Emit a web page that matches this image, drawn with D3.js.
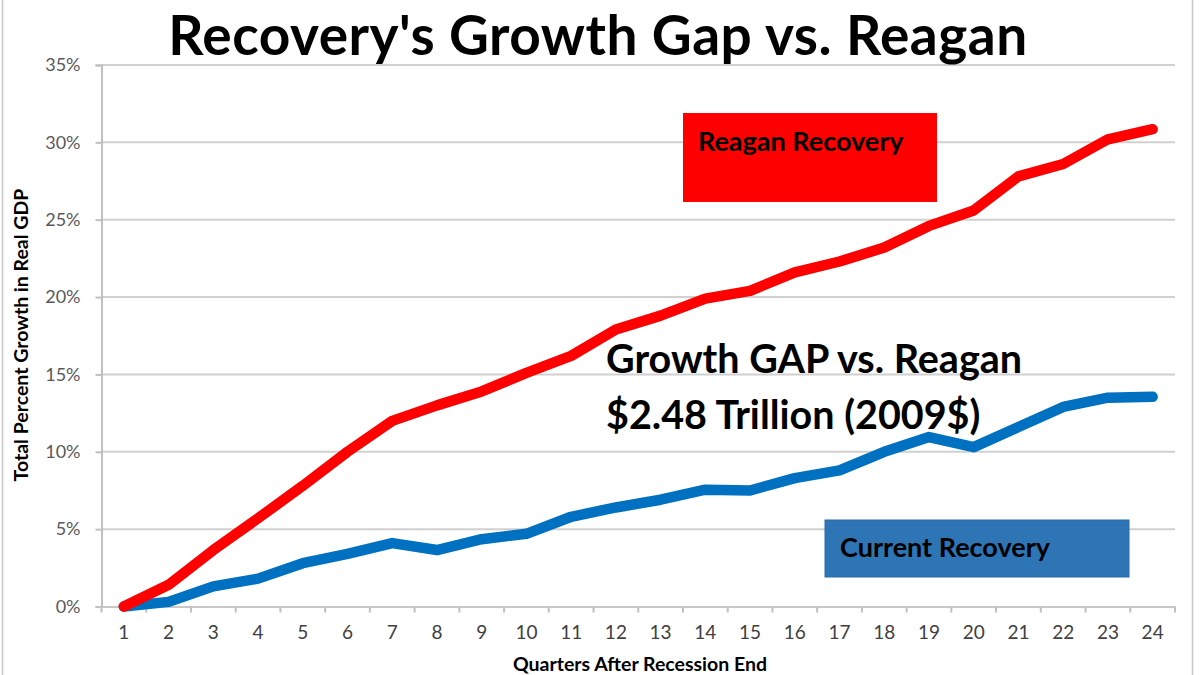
<!DOCTYPE html>
<html>
<head>
<meta charset="utf-8">
<script src="https://cdn.jsdelivr.net/npm/d3@7"></script>
<style>
  html, body { margin: 0; padding: 0; background: #fff; }
  svg { display: block; font-family: Lato, "Open Sans", sans-serif; }
</style>
</head>
<body>
<svg id="chart" width="1200" height="675"></svg>
<script>
// ---- data ----
const quarters = [1,2,3,4,5,6,7,8,9,10,11,12,13,14,15,16,17,18,19,20,21,22,23,24];
const reagan  = [0, 1.4, 3.65, 5.7, 7.8, 10.0, 12.0, 13.0, 13.9, 15.1, 16.2, 17.9, 18.8, 19.9, 20.4, 21.6, 22.3, 23.2, 24.6, 25.6, 27.8, 28.6, 30.2, 30.85];
const current = [0, 0.3, 1.3, 1.8, 2.8, 3.4, 4.1, 3.65, 4.35, 4.7, 5.8, 6.4, 6.9, 7.55, 7.5, 8.3, 8.8, 10.0, 10.95, 10.3, 11.6, 12.9, 13.5, 13.55];
const yTicks = [0, 5, 10, 15, 20, 25, 30, 35];
const title = "Recovery's Growth Gap vs. Reagan";
const yTitle = "Total Percent Growth in Real GDP";
const xTitle = "Quarters After Recession End";
const reaganLabel = "Reagan Recovery";
const currentLabel = "Current Recovery";
const gapLines = ["Growth GAP vs. Reagan", "$2.48 Trillion (2009$)"];

// ---- layout ----
const svg = d3.select("#chart");
const pLeft = 101.5, pRight = 1175, pTop = 65, pBottom = 606.5;

const x = d3.scaleBand().domain(quarters).range([pLeft, pRight]).padding(0);
const y = d3.scaleLinear().domain([0, 35]).range([pBottom, pTop]);

// frame lines at image edges
svg.append("line").attr("x1", 2.5).attr("x2", 2.5).attr("y1", 0).attr("y2", 675)
  .attr("stroke", "#c8c8c8").attr("stroke-width", 1.5);
svg.append("line").attr("x1", 1192.5).attr("x2", 1192.5).attr("y1", 0).attr("y2", 675)
  .attr("stroke", "#c8c8c8").attr("stroke-width", 1.5);

// gridlines
svg.append("g").selectAll("line").data(yTicks.filter(d => d > 0)).join("line")
  .attr("x1", pLeft).attr("x2", pRight)
  .attr("y1", d => y(d)).attr("y2", d => y(d))
  .attr("stroke", "#d0d0d0").attr("stroke-width", 2);

// y axis
const yAxis = d3.axisLeft(y).tickValues(yTicks).tickFormat(d => d + "%").tickSize(6).tickPadding(15);
const gy = svg.append("g").attr("transform", `translate(${pLeft},0)`).call(yAxis);
gy.select(".domain").attr("stroke", "#c0c0c0").attr("stroke-width", 2);
gy.selectAll(".tick line").attr("stroke", "#c0c0c0").attr("stroke-width", 2);
gy.selectAll(".tick text").attr("fill", "#595959").style("font-size", "18px").style("font-family", "Lato, sans-serif");

// x axis: labels at band centers, ticks at band edges
const xAxis = d3.axisBottom(x).tickSize(0).tickPadding(19);
const gx = svg.append("g").attr("transform", `translate(0,${pBottom})`).call(xAxis);
gx.select(".domain").attr("stroke", "#c8c8c8").attr("stroke-width", 2);
gx.selectAll(".tick text").attr("fill", "#404040").style("font-size", "19px").style("font-family", "Lato, sans-serif");
const edges = quarters.map(q => x(q)).concat([x(quarters[quarters.length - 1]) + x.bandwidth()]);
svg.append("g").selectAll("line").data(edges).join("line")
  .attr("x1", d => d).attr("x2", d => d)
  .attr("y1", pBottom).attr("y2", pBottom + 6)
  .attr("stroke", "#c0c0c0").attr("stroke-width", 2);

// lines
const line = d3.line().x((d, i) => x(quarters[i]) + x.bandwidth() / 2).y(d => y(d));
svg.append("path").datum(current).attr("d", line)
  .attr("fill", "none").attr("stroke", "#0070c0").attr("stroke-width", 10.5)
  .attr("stroke-linejoin", "round").attr("stroke-linecap", "round");
svg.append("path").datum(reagan).attr("d", line)
  .attr("fill", "none").attr("stroke", "#ff0000").attr("stroke-width", 10.5)
  .attr("stroke-linejoin", "round").attr("stroke-linecap", "round");

// title
svg.append("text").attr("x", 598).attr("y", 54.5).attr("text-anchor", "middle")
  .style("font-size", "55px").style("font-weight", 700).style("letter-spacing", "0.5px")
  .attr("fill", "#000").text(title);

// axis titles
svg.append("text").attr("transform", "translate(28,335) rotate(-90)").attr("text-anchor", "middle")
  .style("font-size", "19.5px").style("font-weight", 700).attr("fill", "#000").text(yTitle);
svg.append("text").attr("x", 640).attr("y", 671).attr("text-anchor", "middle")
  .style("font-size", "19.5px").style("font-weight", 700).attr("fill", "#000").text(xTitle);

// label boxes
svg.append("rect").attr("x", 683).attr("y", 113).attr("width", 254).attr("height", 89).attr("fill", "#ff0000");
svg.append("text").attr("x", 698).attr("y", 151).style("font-size", "27px").style("font-weight", 700)
  .attr("fill", "#000").text(reaganLabel);

svg.append("rect").attr("x", 825).attr("y", 520).attr("width", 304).attr("height", 57)
  .attr("fill", "#2e75b6").attr("stroke", "#2a6aa8").attr("stroke-width", 1);
svg.append("text").attr("x", 840).attr("y", 557).style("font-size", "27px").style("font-weight", 700)
  .attr("fill", "#000").text(currentLabel);

// gap annotation
svg.append("text").attr("x", 606).attr("y", 373).style("font-size", "39.5px").style("font-weight", 700)
  .attr("fill", "#000").text(gapLines[0]);
svg.append("text").attr("x", 606).attr("y", 429).style("font-size", "39.5px").style("font-weight", 700)
  .attr("fill", "#000").text(gapLines[1]);
</script>
</body>
</html>
